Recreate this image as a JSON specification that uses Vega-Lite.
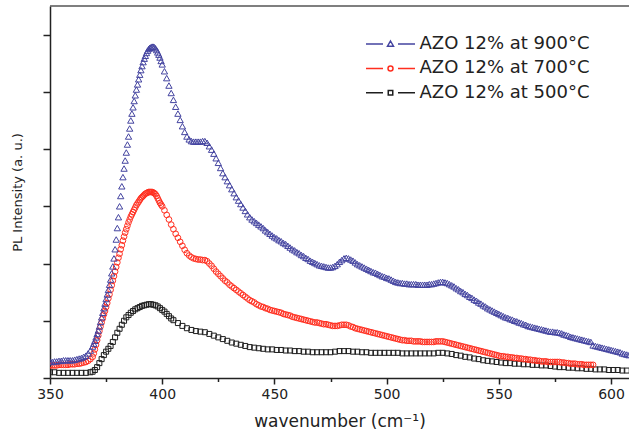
{
  "$schema": "https://vega.github.io/schema/vega-lite/v6.json",
  "width": 579,
  "height": 372,
  "autosize": {"type": "none"},
  "padding": {"left": 50, "top": 6, "right": 0, "bottom": 61},
  "background": "white",
  "config": {
    "view": {"stroke": null},
    "font": "DejaVu Sans",
    "axis": {"grid": false, "domainColor": "#222", "domainWidth": 1.5, "tickColor": "#222", "tickWidth": 1.5, "labelColor": "#222", "titleColor": "#222", "titleFontWeight": "normal"}
  },
  "datasets": {
    "spectra": [
      {"s":"500","w":350,"v":0.10},{"s":"500","w":352,"v":0.10},{"s":"500","w":354,"v":0.09},{"s":"500","w":356,"v":0.09},{"s":"500","w":358,"v":0.09},{"s":"500","w":360,"v":0.09},{"s":"500","w":362,"v":0.09},{"s":"500","w":364,"v":0.09},{"s":"500","w":366,"v":0.09},{"s":"500","w":368,"v":0.10},{"s":"500","w":369,"v":0.11},{"s":"500","w":370,"v":0.14},{"s":"500","w":371,"v":0.19},{"s":"500","w":372,"v":0.26},{"s":"500","w":373,"v":0.33},{"s":"500","w":374,"v":0.40},{"s":"500","w":375,"v":0.46},{"s":"500","w":376,"v":0.51},{"s":"500","w":377,"v":0.56},{"s":"500","w":378,"v":0.63},{"s":"500","w":379,"v":0.71},{"s":"500","w":380,"v":0.79},{"s":"500","w":381,"v":0.86},{"s":"500","w":382,"v":0.93},{"s":"500","w":383,"v":1.00},{"s":"500","w":384,"v":1.06},{"s":"500","w":385,"v":1.10},{"s":"500","w":386,"v":1.14},{"s":"500","w":387,"v":1.17},{"s":"500","w":388,"v":1.20},{"s":"500","w":389,"v":1.22},{"s":"500","w":390,"v":1.24},{"s":"500","w":391,"v":1.26},{"s":"500","w":392,"v":1.27},{"s":"500","w":393,"v":1.28},{"s":"500","w":394,"v":1.29},{"s":"500","w":395,"v":1.29},{"s":"500","w":396,"v":1.28},{"s":"500","w":397,"v":1.27},{"s":"500","w":398,"v":1.25},{"s":"500","w":399,"v":1.22},{"s":"500","w":400,"v":1.19},{"s":"500","w":401,"v":1.16},{"s":"500","w":402,"v":1.12},{"s":"500","w":403,"v":1.08},{"s":"500","w":404,"v":1.04},{"s":"500","w":405,"v":1.01},{"s":"500","w":407,"v":0.96},{"s":"500","w":409,"v":0.91},{"s":"500","w":411,"v":0.87},{"s":"500","w":413,"v":0.84},{"s":"500","w":415,"v":0.82},{"s":"500","w":417,"v":0.81},{"s":"500","w":419,"v":0.80},{"s":"500","w":421,"v":0.77},{"s":"500","w":423,"v":0.74},{"s":"500","w":425,"v":0.71},{"s":"500","w":427,"v":0.68},{"s":"500","w":429,"v":0.65},{"s":"500","w":431,"v":0.62},{"s":"500","w":433,"v":0.60},{"s":"500","w":435,"v":0.58},{"s":"500","w":437,"v":0.56},{"s":"500","w":439,"v":0.54},{"s":"500","w":441,"v":0.53},{"s":"500","w":443,"v":0.52},{"s":"500","w":445,"v":0.51},{"s":"500","w":447,"v":0.50},{"s":"500","w":449,"v":0.50},{"s":"500","w":451,"v":0.49},{"s":"500","w":453,"v":0.49},{"s":"500","w":455,"v":0.48},{"s":"500","w":457,"v":0.48},{"s":"500","w":459,"v":0.47},{"s":"500","w":461,"v":0.47},{"s":"500","w":463,"v":0.46},{"s":"500","w":465,"v":0.46},{"s":"500","w":467,"v":0.45},{"s":"500","w":469,"v":0.45},{"s":"500","w":471,"v":0.45},{"s":"500","w":473,"v":0.45},{"s":"500","w":475,"v":0.45},{"s":"500","w":477,"v":0.46},{"s":"500","w":479,"v":0.47},{"s":"500","w":481,"v":0.47},{"s":"500","w":483,"v":0.47},{"s":"500","w":485,"v":0.46},{"s":"500","w":487,"v":0.46},{"s":"500","w":489,"v":0.45},{"s":"500","w":491,"v":0.45},{"s":"500","w":493,"v":0.44},{"s":"500","w":495,"v":0.44},{"s":"500","w":497,"v":0.44},{"s":"500","w":499,"v":0.44},{"s":"500","w":501,"v":0.44},{"s":"500","w":503,"v":0.44},{"s":"500","w":505,"v":0.44},{"s":"500","w":507,"v":0.43},{"s":"500","w":509,"v":0.43},{"s":"500","w":511,"v":0.43},{"s":"500","w":513,"v":0.43},{"s":"500","w":515,"v":0.43},{"s":"500","w":517,"v":0.43},{"s":"500","w":519,"v":0.43},{"s":"500","w":521,"v":0.43},{"s":"500","w":523,"v":0.44},{"s":"500","w":525,"v":0.44},{"s":"500","w":527,"v":0.43},{"s":"500","w":529,"v":0.42},{"s":"500","w":531,"v":0.40},{"s":"500","w":533,"v":0.39},{"s":"500","w":535,"v":0.37},{"s":"500","w":537,"v":0.36},{"s":"500","w":539,"v":0.34},{"s":"500","w":541,"v":0.33},{"s":"500","w":543,"v":0.31},{"s":"500","w":545,"v":0.30},{"s":"500","w":547,"v":0.29},{"s":"500","w":549,"v":0.28},{"s":"500","w":551,"v":0.27},{"s":"500","w":553,"v":0.26},{"s":"500","w":555,"v":0.26},{"s":"500","w":557,"v":0.25},{"s":"500","w":559,"v":0.25},{"s":"500","w":561,"v":0.24},{"s":"500","w":563,"v":0.24},{"s":"500","w":565,"v":0.23},{"s":"500","w":567,"v":0.23},{"s":"500","w":569,"v":0.22},{"s":"500","w":571,"v":0.22},{"s":"500","w":573,"v":0.21},{"s":"500","w":575,"v":0.20},{"s":"500","w":577,"v":0.19},{"s":"500","w":579,"v":0.19},{"s":"500","w":581,"v":0.18},{"s":"500","w":583,"v":0.18},{"s":"500","w":585,"v":0.17},{"s":"500","w":587,"v":0.17},{"s":"500","w":589,"v":0.16},{"s":"500","w":591,"v":0.16},{"s":"500","w":593,"v":0.15},{"s":"500","w":595,"v":0.15},{"s":"500","w":597,"v":0.15},{"s":"500","w":599,"v":0.14},{"s":"500","w":601,"v":0.14},{"s":"500","w":603,"v":0.14},{"s":"500","w":605,"v":0.13},{"s":"500","w":607,"v":0.13},

      {"s":"700","w":350,"v":0.22},{"s":"700","w":351,"v":0.22},{"s":"700","w":352,"v":0.22},{"s":"700","w":353,"v":0.22},{"s":"700","w":354,"v":0.23},{"s":"700","w":355,"v":0.23},{"s":"700","w":356,"v":0.23},{"s":"700","w":357,"v":0.23},{"s":"700","w":358,"v":0.23},{"s":"700","w":359,"v":0.24},{"s":"700","w":360,"v":0.24},{"s":"700","w":361,"v":0.24},{"s":"700","w":362,"v":0.25},{"s":"700","w":363,"v":0.25},{"s":"700","w":364,"v":0.26},{"s":"700","w":365,"v":0.27},{"s":"700","w":366,"v":0.28},{"s":"700","w":367,"v":0.30},{"s":"700","w":368,"v":0.33},{"s":"700","w":369,"v":0.37},{"s":"700","w":369.5,"v":0.43},{"s":"700","w":370,"v":0.50},{"s":"700","w":370.5,"v":0.58},{"s":"700","w":371,"v":0.66},{"s":"700","w":371.5,"v":0.74},{"s":"700","w":372,"v":0.82},{"s":"700","w":372.5,"v":0.90},{"s":"700","w":373,"v":0.97},{"s":"700","w":373.5,"v":1.04},{"s":"700","w":374,"v":1.11},{"s":"700","w":374.5,"v":1.17},{"s":"700","w":375,"v":1.24},{"s":"700","w":375.5,"v":1.31},{"s":"700","w":376,"v":1.39},{"s":"700","w":376.5,"v":1.46},{"s":"700","w":377,"v":1.54},{"s":"700","w":377.5,"v":1.62},{"s":"700","w":378,"v":1.70},{"s":"700","w":378.5,"v":1.78},{"s":"700","w":379,"v":1.86},{"s":"700","w":379.5,"v":1.94},{"s":"700","w":380,"v":2.02},{"s":"700","w":380.5,"v":2.10},{"s":"700","w":381,"v":2.17},{"s":"700","w":381.5,"v":2.25},{"s":"700","w":382,"v":2.32},{"s":"700","w":382.5,"v":2.40},{"s":"700","w":383,"v":2.47},{"s":"700","w":383.5,"v":2.54},{"s":"700","w":384,"v":2.60},{"s":"700","w":384.5,"v":2.66},{"s":"700","w":385,"v":2.72},{"s":"700","w":385.5,"v":2.77},{"s":"700","w":386,"v":2.82},{"s":"700","w":386.5,"v":2.86},{"s":"700","w":387,"v":2.90},{"s":"700","w":387.5,"v":2.94},{"s":"700","w":388,"v":2.98},{"s":"700","w":388.5,"v":3.02},{"s":"700","w":389,"v":3.05},{"s":"700","w":389.5,"v":3.08},{"s":"700","w":390,"v":3.11},{"s":"700","w":390.5,"v":3.14},{"s":"700","w":391,"v":3.16},{"s":"700","w":391.5,"v":3.18},{"s":"700","w":392,"v":3.20},{"s":"700","w":392.5,"v":3.22},{"s":"700","w":393,"v":3.23},{"s":"700","w":393.5,"v":3.24},{"s":"700","w":394,"v":3.25},{"s":"700","w":394.5,"v":3.25},{"s":"700","w":395,"v":3.25},{"s":"700","w":395.5,"v":3.25},{"s":"700","w":396,"v":3.24},{"s":"700","w":396.5,"v":3.23},{"s":"700","w":397,"v":3.21},{"s":"700","w":397.5,"v":3.18},{"s":"700","w":398,"v":3.14},{"s":"700","w":398.5,"v":3.10},{"s":"700","w":399,"v":3.06},{"s":"700","w":399.5,"v":3.03},{"s":"700","w":400,"v":3.00},{"s":"700","w":401,"v":2.93},{"s":"700","w":402,"v":2.85},{"s":"700","w":403,"v":2.77},{"s":"700","w":404,"v":2.68},{"s":"700","w":405,"v":2.60},{"s":"700","w":406,"v":2.52},{"s":"700","w":407,"v":2.45},{"s":"700","w":408,"v":2.38},{"s":"700","w":409,"v":2.31},{"s":"700","w":410,"v":2.24},{"s":"700","w":411,"v":2.18},{"s":"700","w":412,"v":2.14},{"s":"700","w":413,"v":2.11},{"s":"700","w":414,"v":2.09},{"s":"700","w":415,"v":2.08},{"s":"700","w":416,"v":2.07},{"s":"700","w":417,"v":2.07},{"s":"700","w":418,"v":2.06},{"s":"700","w":419,"v":2.06},{"s":"700","w":420,"v":2.04},{"s":"700","w":421,"v":2.00},{"s":"700","w":422,"v":1.96},{"s":"700","w":423,"v":1.91},{"s":"700","w":424,"v":1.86},{"s":"700","w":425,"v":1.82},{"s":"700","w":426,"v":1.78},{"s":"700","w":427,"v":1.74},{"s":"700","w":428,"v":1.70},{"s":"700","w":429,"v":1.67},{"s":"700","w":430,"v":1.63},{"s":"700","w":431,"v":1.60},{"s":"700","w":432,"v":1.57},{"s":"700","w":433,"v":1.54},{"s":"700","w":434,"v":1.51},{"s":"700","w":435,"v":1.48},{"s":"700","w":436,"v":1.45},{"s":"700","w":437,"v":1.42},{"s":"700","w":438,"v":1.39},{"s":"700","w":439,"v":1.36},{"s":"700","w":440,"v":1.34},{"s":"700","w":441,"v":1.32},{"s":"700","w":442,"v":1.29},{"s":"700","w":443,"v":1.27},{"s":"700","w":444,"v":1.25},{"s":"700","w":445,"v":1.24},{"s":"700","w":446,"v":1.22},{"s":"700","w":447,"v":1.21},{"s":"700","w":448,"v":1.19},{"s":"700","w":449,"v":1.18},{"s":"700","w":450,"v":1.17},{"s":"700","w":451,"v":1.16},{"s":"700","w":452,"v":1.15},{"s":"700","w":453,"v":1.14},{"s":"700","w":454,"v":1.12},{"s":"700","w":455,"v":1.11},{"s":"700","w":456,"v":1.10},{"s":"700","w":457,"v":1.09},{"s":"700","w":458,"v":1.07},{"s":"700","w":459,"v":1.06},{"s":"700","w":460,"v":1.05},{"s":"700","w":461,"v":1.04},{"s":"700","w":462,"v":1.03},{"s":"700","w":463,"v":1.02},{"s":"700","w":464,"v":1.01},{"s":"700","w":465,"v":1.00},{"s":"700","w":466,"v":0.99},{"s":"700","w":467,"v":0.98},{"s":"700","w":468,"v":0.97},{"s":"700","w":469,"v":0.97},{"s":"700","w":470,"v":0.96},{"s":"700","w":471,"v":0.95},{"s":"700","w":472,"v":0.94},{"s":"700","w":473,"v":0.94},{"s":"700","w":474,"v":0.93},{"s":"700","w":475,"v":0.92},{"s":"700","w":476,"v":0.91},{"s":"700","w":477,"v":0.91},{"s":"700","w":478,"v":0.91},{"s":"700","w":479,"v":0.92},{"s":"700","w":480,"v":0.93},{"s":"700","w":481,"v":0.93},{"s":"700","w":482,"v":0.93},{"s":"700","w":483,"v":0.92},{"s":"700","w":484,"v":0.90},{"s":"700","w":485,"v":0.89},{"s":"700","w":486,"v":0.87},{"s":"700","w":487,"v":0.86},{"s":"700","w":488,"v":0.85},{"s":"700","w":489,"v":0.84},{"s":"700","w":490,"v":0.83},{"s":"700","w":491,"v":0.82},{"s":"700","w":492,"v":0.81},{"s":"700","w":493,"v":0.80},{"s":"700","w":494,"v":0.79},{"s":"700","w":495,"v":0.78},{"s":"700","w":496,"v":0.77},{"s":"700","w":497,"v":0.76},{"s":"700","w":498,"v":0.75},{"s":"700","w":499,"v":0.74},{"s":"700","w":500,"v":0.73},{"s":"700","w":501,"v":0.72},{"s":"700","w":502,"v":0.71},{"s":"700","w":503,"v":0.70},{"s":"700","w":504,"v":0.69},{"s":"700","w":505,"v":0.68},{"s":"700","w":506,"v":0.67},{"s":"700","w":507,"v":0.66},{"s":"700","w":508,"v":0.66},{"s":"700","w":509,"v":0.65},{"s":"700","w":510,"v":0.65},{"s":"700","w":511,"v":0.65},{"s":"700","w":512,"v":0.64},{"s":"700","w":513,"v":0.64},{"s":"700","w":514,"v":0.64},{"s":"700","w":515,"v":0.64},{"s":"700","w":516,"v":0.63},{"s":"700","w":517,"v":0.63},{"s":"700","w":518,"v":0.63},{"s":"700","w":519,"v":0.63},{"s":"700","w":520,"v":0.63},{"s":"700","w":521,"v":0.63},{"s":"700","w":522,"v":0.64},{"s":"700","w":523,"v":0.64},{"s":"700","w":524,"v":0.64},{"s":"700","w":525,"v":0.64},{"s":"700","w":526,"v":0.63},{"s":"700","w":527,"v":0.62},{"s":"700","w":528,"v":0.61},{"s":"700","w":529,"v":0.60},{"s":"700","w":530,"v":0.59},{"s":"700","w":531,"v":0.58},{"s":"700","w":532,"v":0.57},{"s":"700","w":533,"v":0.56},{"s":"700","w":534,"v":0.55},{"s":"700","w":535,"v":0.54},{"s":"700","w":536,"v":0.53},{"s":"700","w":537,"v":0.52},{"s":"700","w":538,"v":0.51},{"s":"700","w":539,"v":0.50},{"s":"700","w":540,"v":0.49},{"s":"700","w":541,"v":0.48},{"s":"700","w":542,"v":0.47},{"s":"700","w":543,"v":0.46},{"s":"700","w":544,"v":0.45},{"s":"700","w":545,"v":0.44},{"s":"700","w":546,"v":0.43},{"s":"700","w":547,"v":0.42},{"s":"700","w":548,"v":0.41},{"s":"700","w":549,"v":0.40},{"s":"700","w":550,"v":0.39},{"s":"700","w":551,"v":0.38},{"s":"700","w":552,"v":0.38},{"s":"700","w":553,"v":0.37},{"s":"700","w":554,"v":0.37},{"s":"700","w":555,"v":0.36},{"s":"700","w":556,"v":0.36},{"s":"700","w":557,"v":0.35},{"s":"700","w":558,"v":0.35},{"s":"700","w":559,"v":0.34},{"s":"700","w":560,"v":0.34},{"s":"700","w":561,"v":0.33},{"s":"700","w":562,"v":0.33},{"s":"700","w":563,"v":0.32},{"s":"700","w":564,"v":0.32},{"s":"700","w":565,"v":0.31},{"s":"700","w":566,"v":0.31},{"s":"700","w":567,"v":0.30},{"s":"700","w":568,"v":0.30},{"s":"700","w":569,"v":0.29},{"s":"700","w":570,"v":0.29},{"s":"700","w":571,"v":0.29},{"s":"700","w":572,"v":0.28},{"s":"700","w":573,"v":0.28},{"s":"700","w":574,"v":0.28},{"s":"700","w":575,"v":0.28},{"s":"700","w":576,"v":0.28},{"s":"700","w":577,"v":0.28},{"s":"700","w":578,"v":0.27},{"s":"700","w":579,"v":0.27},{"s":"700","w":580,"v":0.26},{"s":"700","w":581,"v":0.26},{"s":"700","w":582,"v":0.25},{"s":"700","w":583,"v":0.25},{"s":"700","w":584,"v":0.25},{"s":"700","w":585,"v":0.24},{"s":"700","w":586,"v":0.24},{"s":"700","w":587,"v":0.24},{"s":"700","w":588,"v":0.23},{"s":"700","w":589,"v":0.23},{"s":"700","w":590,"v":0.23},{"s":"700","w":591,"v":0.23},{"s":"700","w":592,"v":0.23},

      {"s":"900","w":350,"v":0.28},{"s":"900","w":351,"v":0.28},{"s":"900","w":352,"v":0.29},{"s":"900","w":353,"v":0.29},{"s":"900","w":354,"v":0.30},{"s":"900","w":355,"v":0.30},{"s":"900","w":356,"v":0.31},{"s":"900","w":357,"v":0.31},{"s":"900","w":358,"v":0.31},{"s":"900","w":359,"v":0.31},{"s":"900","w":360,"v":0.31},{"s":"900","w":361,"v":0.32},{"s":"900","w":362,"v":0.33},{"s":"900","w":363,"v":0.34},{"s":"900","w":364,"v":0.35},{"s":"900","w":365,"v":0.37},{"s":"900","w":366,"v":0.39},{"s":"900","w":367,"v":0.43},{"s":"900","w":368,"v":0.48},{"s":"900","w":369,"v":0.55},{"s":"900","w":369.5,"v":0.60},{"s":"900","w":370,"v":0.65},{"s":"900","w":370.5,"v":0.71},{"s":"900","w":371,"v":0.77},{"s":"900","w":371.5,"v":0.83},{"s":"900","w":372,"v":0.90},{"s":"900","w":372.5,"v":0.98},{"s":"900","w":373,"v":1.06},{"s":"900","w":373.5,"v":1.14},{"s":"900","w":374,"v":1.22},{"s":"900","w":374.5,"v":1.30},{"s":"900","w":375,"v":1.38},{"s":"900","w":375.5,"v":1.46},{"s":"900","w":376,"v":1.54},{"s":"900","w":376.5,"v":1.63},{"s":"900","w":377,"v":1.72},{"s":"900","w":377.5,"v":1.83},{"s":"900","w":378,"v":1.95},{"s":"900","w":378.5,"v":2.09},{"s":"900","w":379,"v":2.25},{"s":"900","w":379.5,"v":2.42},{"s":"900","w":380,"v":2.62},{"s":"900","w":380.5,"v":2.81},{"s":"900","w":381,"v":3.00},{"s":"900","w":381.5,"v":3.18},{"s":"900","w":382,"v":3.35},{"s":"900","w":382.5,"v":3.51},{"s":"900","w":383,"v":3.66},{"s":"900","w":383.5,"v":3.80},{"s":"900","w":384,"v":3.94},{"s":"900","w":384.5,"v":4.08},{"s":"900","w":385,"v":4.22},{"s":"900","w":385.5,"v":4.36},{"s":"900","w":386,"v":4.50},{"s":"900","w":386.5,"v":4.62},{"s":"900","w":387,"v":4.73},{"s":"900","w":387.5,"v":4.84},{"s":"900","w":388,"v":4.94},{"s":"900","w":388.5,"v":5.04},{"s":"900","w":389,"v":5.13},{"s":"900","w":389.5,"v":5.22},{"s":"900","w":390,"v":5.30},{"s":"900","w":390.5,"v":5.38},{"s":"900","w":391,"v":5.45},{"s":"900","w":391.5,"v":5.52},{"s":"900","w":392,"v":5.58},{"s":"900","w":392.5,"v":5.63},{"s":"900","w":393,"v":5.68},{"s":"900","w":393.5,"v":5.72},{"s":"900","w":394,"v":5.75},{"s":"900","w":394.5,"v":5.77},{"s":"900","w":395,"v":5.78},{"s":"900","w":395.5,"v":5.79},{"s":"900","w":396,"v":5.79},{"s":"900","w":396.5,"v":5.78},{"s":"900","w":397,"v":5.76},{"s":"900","w":397.5,"v":5.73},{"s":"900","w":398,"v":5.69},{"s":"900","w":398.5,"v":5.65},{"s":"900","w":399,"v":5.60},{"s":"900","w":399.5,"v":5.54},{"s":"900","w":400,"v":5.48},{"s":"900","w":401,"v":5.36},{"s":"900","w":402,"v":5.24},{"s":"900","w":403,"v":5.11},{"s":"900","w":404,"v":4.98},{"s":"900","w":405,"v":4.86},{"s":"900","w":406,"v":4.74},{"s":"900","w":407,"v":4.62},{"s":"900","w":408,"v":4.51},{"s":"900","w":409,"v":4.40},{"s":"900","w":410,"v":4.30},{"s":"900","w":411,"v":4.22},{"s":"900","w":412,"v":4.17},{"s":"900","w":413,"v":4.14},{"s":"900","w":414,"v":4.13},{"s":"900","w":415,"v":4.13},{"s":"900","w":416,"v":4.13},{"s":"900","w":417,"v":4.13},{"s":"900","w":418,"v":4.14},{"s":"900","w":419,"v":4.14},{"s":"900","w":420,"v":4.11},{"s":"900","w":421,"v":4.05},{"s":"900","w":422,"v":3.99},{"s":"900","w":423,"v":3.92},{"s":"900","w":424,"v":3.84},{"s":"900","w":425,"v":3.76},{"s":"900","w":426,"v":3.67},{"s":"900","w":427,"v":3.58},{"s":"900","w":428,"v":3.51},{"s":"900","w":429,"v":3.44},{"s":"900","w":430,"v":3.37},{"s":"900","w":431,"v":3.30},{"s":"900","w":432,"v":3.23},{"s":"900","w":433,"v":3.16},{"s":"900","w":434,"v":3.10},{"s":"900","w":435,"v":3.04},{"s":"900","w":436,"v":2.98},{"s":"900","w":437,"v":2.92},{"s":"900","w":438,"v":2.86},{"s":"900","w":439,"v":2.81},{"s":"900","w":440,"v":2.77},{"s":"900","w":441,"v":2.74},{"s":"900","w":442,"v":2.71},{"s":"900","w":443,"v":2.68},{"s":"900","w":444,"v":2.65},{"s":"900","w":445,"v":2.62},{"s":"900","w":446,"v":2.58},{"s":"900","w":447,"v":2.55},{"s":"900","w":448,"v":2.52},{"s":"900","w":449,"v":2.49},{"s":"900","w":450,"v":2.46},{"s":"900","w":451,"v":2.44},{"s":"900","w":452,"v":2.41},{"s":"900","w":453,"v":2.39},{"s":"900","w":454,"v":2.36},{"s":"900","w":455,"v":2.34},{"s":"900","w":456,"v":2.31},{"s":"900","w":457,"v":2.28},{"s":"900","w":458,"v":2.25},{"s":"900","w":459,"v":2.23},{"s":"900","w":460,"v":2.20},{"s":"900","w":461,"v":2.18},{"s":"900","w":462,"v":2.15},{"s":"900","w":463,"v":2.13},{"s":"900","w":464,"v":2.10},{"s":"900","w":465,"v":2.08},{"s":"900","w":466,"v":2.05},{"s":"900","w":467,"v":2.03},{"s":"900","w":468,"v":2.01},{"s":"900","w":469,"v":1.99},{"s":"900","w":470,"v":1.97},{"s":"900","w":471,"v":1.96},{"s":"900","w":472,"v":1.95},{"s":"900","w":473,"v":1.94},{"s":"900","w":474,"v":1.93},{"s":"900","w":475,"v":1.93},{"s":"900","w":476,"v":1.94},{"s":"900","w":477,"v":1.96},{"s":"900","w":478,"v":1.99},{"s":"900","w":479,"v":2.03},{"s":"900","w":480,"v":2.06},{"s":"900","w":481,"v":2.09},{"s":"900","w":482,"v":2.10},{"s":"900","w":483,"v":2.09},{"s":"900","w":484,"v":2.07},{"s":"900","w":485,"v":2.05},{"s":"900","w":486,"v":2.02},{"s":"900","w":487,"v":1.99},{"s":"900","w":488,"v":1.97},{"s":"900","w":489,"v":1.95},{"s":"900","w":490,"v":1.93},{"s":"900","w":491,"v":1.91},{"s":"900","w":492,"v":1.89},{"s":"900","w":493,"v":1.87},{"s":"900","w":494,"v":1.85},{"s":"900","w":495,"v":1.84},{"s":"900","w":496,"v":1.82},{"s":"900","w":497,"v":1.80},{"s":"900","w":498,"v":1.78},{"s":"900","w":499,"v":1.77},{"s":"900","w":500,"v":1.75},{"s":"900","w":501,"v":1.74},{"s":"900","w":502,"v":1.72},{"s":"900","w":503,"v":1.70},{"s":"900","w":504,"v":1.68},{"s":"900","w":505,"v":1.67},{"s":"900","w":506,"v":1.66},{"s":"900","w":507,"v":1.66},{"s":"900","w":508,"v":1.65},{"s":"900","w":509,"v":1.65},{"s":"900","w":510,"v":1.64},{"s":"900","w":511,"v":1.64},{"s":"900","w":512,"v":1.64},{"s":"900","w":513,"v":1.64},{"s":"900","w":514,"v":1.63},{"s":"900","w":515,"v":1.63},{"s":"900","w":516,"v":1.63},{"s":"900","w":517,"v":1.63},{"s":"900","w":518,"v":1.63},{"s":"900","w":519,"v":1.64},{"s":"900","w":520,"v":1.64},{"s":"900","w":521,"v":1.65},{"s":"900","w":522,"v":1.66},{"s":"900","w":523,"v":1.67},{"s":"900","w":524,"v":1.68},{"s":"900","w":525,"v":1.68},{"s":"900","w":526,"v":1.67},{"s":"900","w":527,"v":1.66},{"s":"900","w":528,"v":1.64},{"s":"900","w":529,"v":1.62},{"s":"900","w":530,"v":1.60},{"s":"900","w":531,"v":1.57},{"s":"900","w":532,"v":1.55},{"s":"900","w":533,"v":1.52},{"s":"900","w":534,"v":1.50},{"s":"900","w":535,"v":1.47},{"s":"900","w":536,"v":1.45},{"s":"900","w":537,"v":1.42},{"s":"900","w":538,"v":1.40},{"s":"900","w":539,"v":1.37},{"s":"900","w":540,"v":1.35},{"s":"900","w":541,"v":1.32},{"s":"900","w":542,"v":1.30},{"s":"900","w":543,"v":1.27},{"s":"900","w":544,"v":1.25},{"s":"900","w":545,"v":1.22},{"s":"900","w":546,"v":1.20},{"s":"900","w":547,"v":1.18},{"s":"900","w":548,"v":1.16},{"s":"900","w":549,"v":1.14},{"s":"900","w":550,"v":1.12},{"s":"900","w":551,"v":1.10},{"s":"900","w":552,"v":1.08},{"s":"900","w":553,"v":1.06},{"s":"900","w":554,"v":1.05},{"s":"900","w":555,"v":1.03},{"s":"900","w":556,"v":1.02},{"s":"900","w":557,"v":1.00},{"s":"900","w":558,"v":0.99},{"s":"900","w":559,"v":0.97},{"s":"900","w":560,"v":0.96},{"s":"900","w":561,"v":0.94},{"s":"900","w":562,"v":0.93},{"s":"900","w":563,"v":0.91},{"s":"900","w":564,"v":0.90},{"s":"900","w":565,"v":0.89},{"s":"900","w":566,"v":0.88},{"s":"900","w":567,"v":0.87},{"s":"900","w":568,"v":0.86},{"s":"900","w":569,"v":0.85},{"s":"900","w":570,"v":0.84},{"s":"900","w":571,"v":0.83},{"s":"900","w":572,"v":0.82},{"s":"900","w":573,"v":0.81},{"s":"900","w":574,"v":0.81},{"s":"900","w":575,"v":0.80},{"s":"900","w":576,"v":0.80},{"s":"900","w":577,"v":0.79},{"s":"900","w":578,"v":0.78},{"s":"900","w":579,"v":0.76},{"s":"900","w":580,"v":0.75},{"s":"900","w":581,"v":0.74},{"s":"900","w":582,"v":0.72},{"s":"900","w":583,"v":0.71},{"s":"900","w":584,"v":0.70},{"s":"900","w":585,"v":0.69},{"s":"900","w":586,"v":0.68},{"s":"900","w":587,"v":0.67},{"s":"900","w":588,"v":0.66},{"s":"900","w":589,"v":0.65},{"s":"900","w":590,"v":0.64},{"s":"900","w":591,"v":0.63},{"s":"900","w":592,"v":0.57},{"s":"900","w":593,"v":0.56},{"s":"900","w":594,"v":0.55},{"s":"900","w":595,"v":0.54},{"s":"900","w":596,"v":0.53},{"s":"900","w":597,"v":0.52},{"s":"900","w":598,"v":0.51},{"s":"900","w":599,"v":0.50},{"s":"900","w":600,"v":0.49},{"s":"900","w":601,"v":0.48},{"s":"900","w":602,"v":0.47},{"s":"900","w":603,"v":0.46},{"s":"900","w":604,"v":0.45},{"s":"900","w":605,"v":0.43},{"s":"900","w":606,"v":0.42},{"s":"900","w":607,"v":0.41},{"s":"900","w":608,"v":0.40}
    ],
    "frame": [{"top": 6.5}]
  },
  "layer": [
    {
      "data": {"name": "frame"},
      "mark": {"type": "rule", "color": "#555", "strokeWidth": 1.5},
      "encoding": {
        "y": {"field": "top", "type": "quantitative"}
      }
    },
    {
      "data": {"name": "spectra"},
      "mark": {"type": "point", "filled": false, "strokeWidth": 1, "opacity": 1, "clip": true},
      "encoding": {
        "x": {
          "field": "w", "type": "quantitative",
          "scale": {"domain": [350, 608], "nice": false, "zero": false},
          "axis": {
            "values": [350, 375, 400, 425, 450, 475, 500, 525, 550, 575, 600],
            "labelExpr": "datum.value % 50 === 0 ? datum.label : ''",
            "tickSize": {"condition": {"test": "datum.value % 50 === 0", "value": 6}, "value": 3.5},
            "labelFontSize": 14, "labelPadding": 3, "labelFlush": false,
            "title": "wavenumber (cm⁻¹)", "titleFontSize": 17,
            "titleBaseline": "middle", "titleY": 43
          }
        },
        "y": {
          "field": "v", "type": "quantitative",
          "scale": {"domain": [0, 6.5], "nice": false, "zero": true},
          "axis": {
            "values": [0, 0.5, 1, 1.5, 2, 2.5, 3, 3.5, 4, 4.5, 5, 5.5, 6, 6.5],
            "labels": false,
            "tickSize": {"condition": {"test": "datum.value % 1 === 0 || datum.value === 6.5", "value": 7}, "value": 4},
            "title": "PL Intensity (a. u.)", "titleFontSize": 13,
            "titleAngle": -90, "titleBaseline": "middle", "titleAlign": "center",
            "titleX": -33, "titleY": 186
          }
        },
        "color": {
          "field": "s", "type": "nominal",
          "scale": {"domain": ["900", "700", "500"], "range": ["#4444a0", "#ff2e1f", "#1e1e1e"]},
          "legend": null
        },
        "shape": {
          "field": "s", "type": "nominal",
          "scale": {"domain": ["900", "700", "500"], "range": ["triangle-up", "circle", "square"]},
          "legend": null
        },
        "size": {
          "field": "s", "type": "nominal",
          "scale": {"domain": ["900", "700", "500"], "range": [40, 25, 25]},
          "legend": null
        },
        "order": {"field": "s", "type": "nominal"}
      }
    },
    {
      "data": {"name": "spectra"},
      "transform": [{"filter": "datum.w < 0"}],
      "mark": {"type": "point", "filled": false, "strokeWidth": 1.5, "opacity": 1},
      "encoding": {
        "x": {"field": "w", "type": "quantitative"},
        "y": {"field": "v", "type": "quantitative"},
        "color": {
          "field": "s", "type": "nominal",
          "legend": {
            "orient": "none", "legendX": 331.5, "legendY": 29, "padding": 0,
            "title": null, "symbolSize": 100, "symbolStrokeWidth": 1.5,
            "labelFontSize": 18, "labelColor": "#222", "labelOffset": 20, "labelLimit": 400,
            "rowPadding": 6.4,
            "labelExpr": "'AZO 12% at ' + datum.label + '°C'"
          }
        },
        "shape": {
          "field": "s", "type": "nominal",
          "scale": {
            "domain": ["900", "700", "500"],
            "range": [
              "M-4.9,0H-1.5M1.5,0H4.9M0,-0.6L0.6,0.45L-0.6,0.45Z",
              "M-4.9,0H-1.5M1.5,0H4.9M0.5,0A0.5,0.5 0 1,1 -0.5,0A0.5,0.5 0 1,1 0.5,0",
              "M-4.9,0H-1.5M1.5,0H4.9M-0.45,-0.45H0.45V0.45H-0.45Z"
            ]
          },
          "legend": null
        }
      }
    }
  ],
  "resolve": {
    "scale": {"shape": "independent", "size": "independent"},
    "legend": {"color": "independent"}
  }
}
